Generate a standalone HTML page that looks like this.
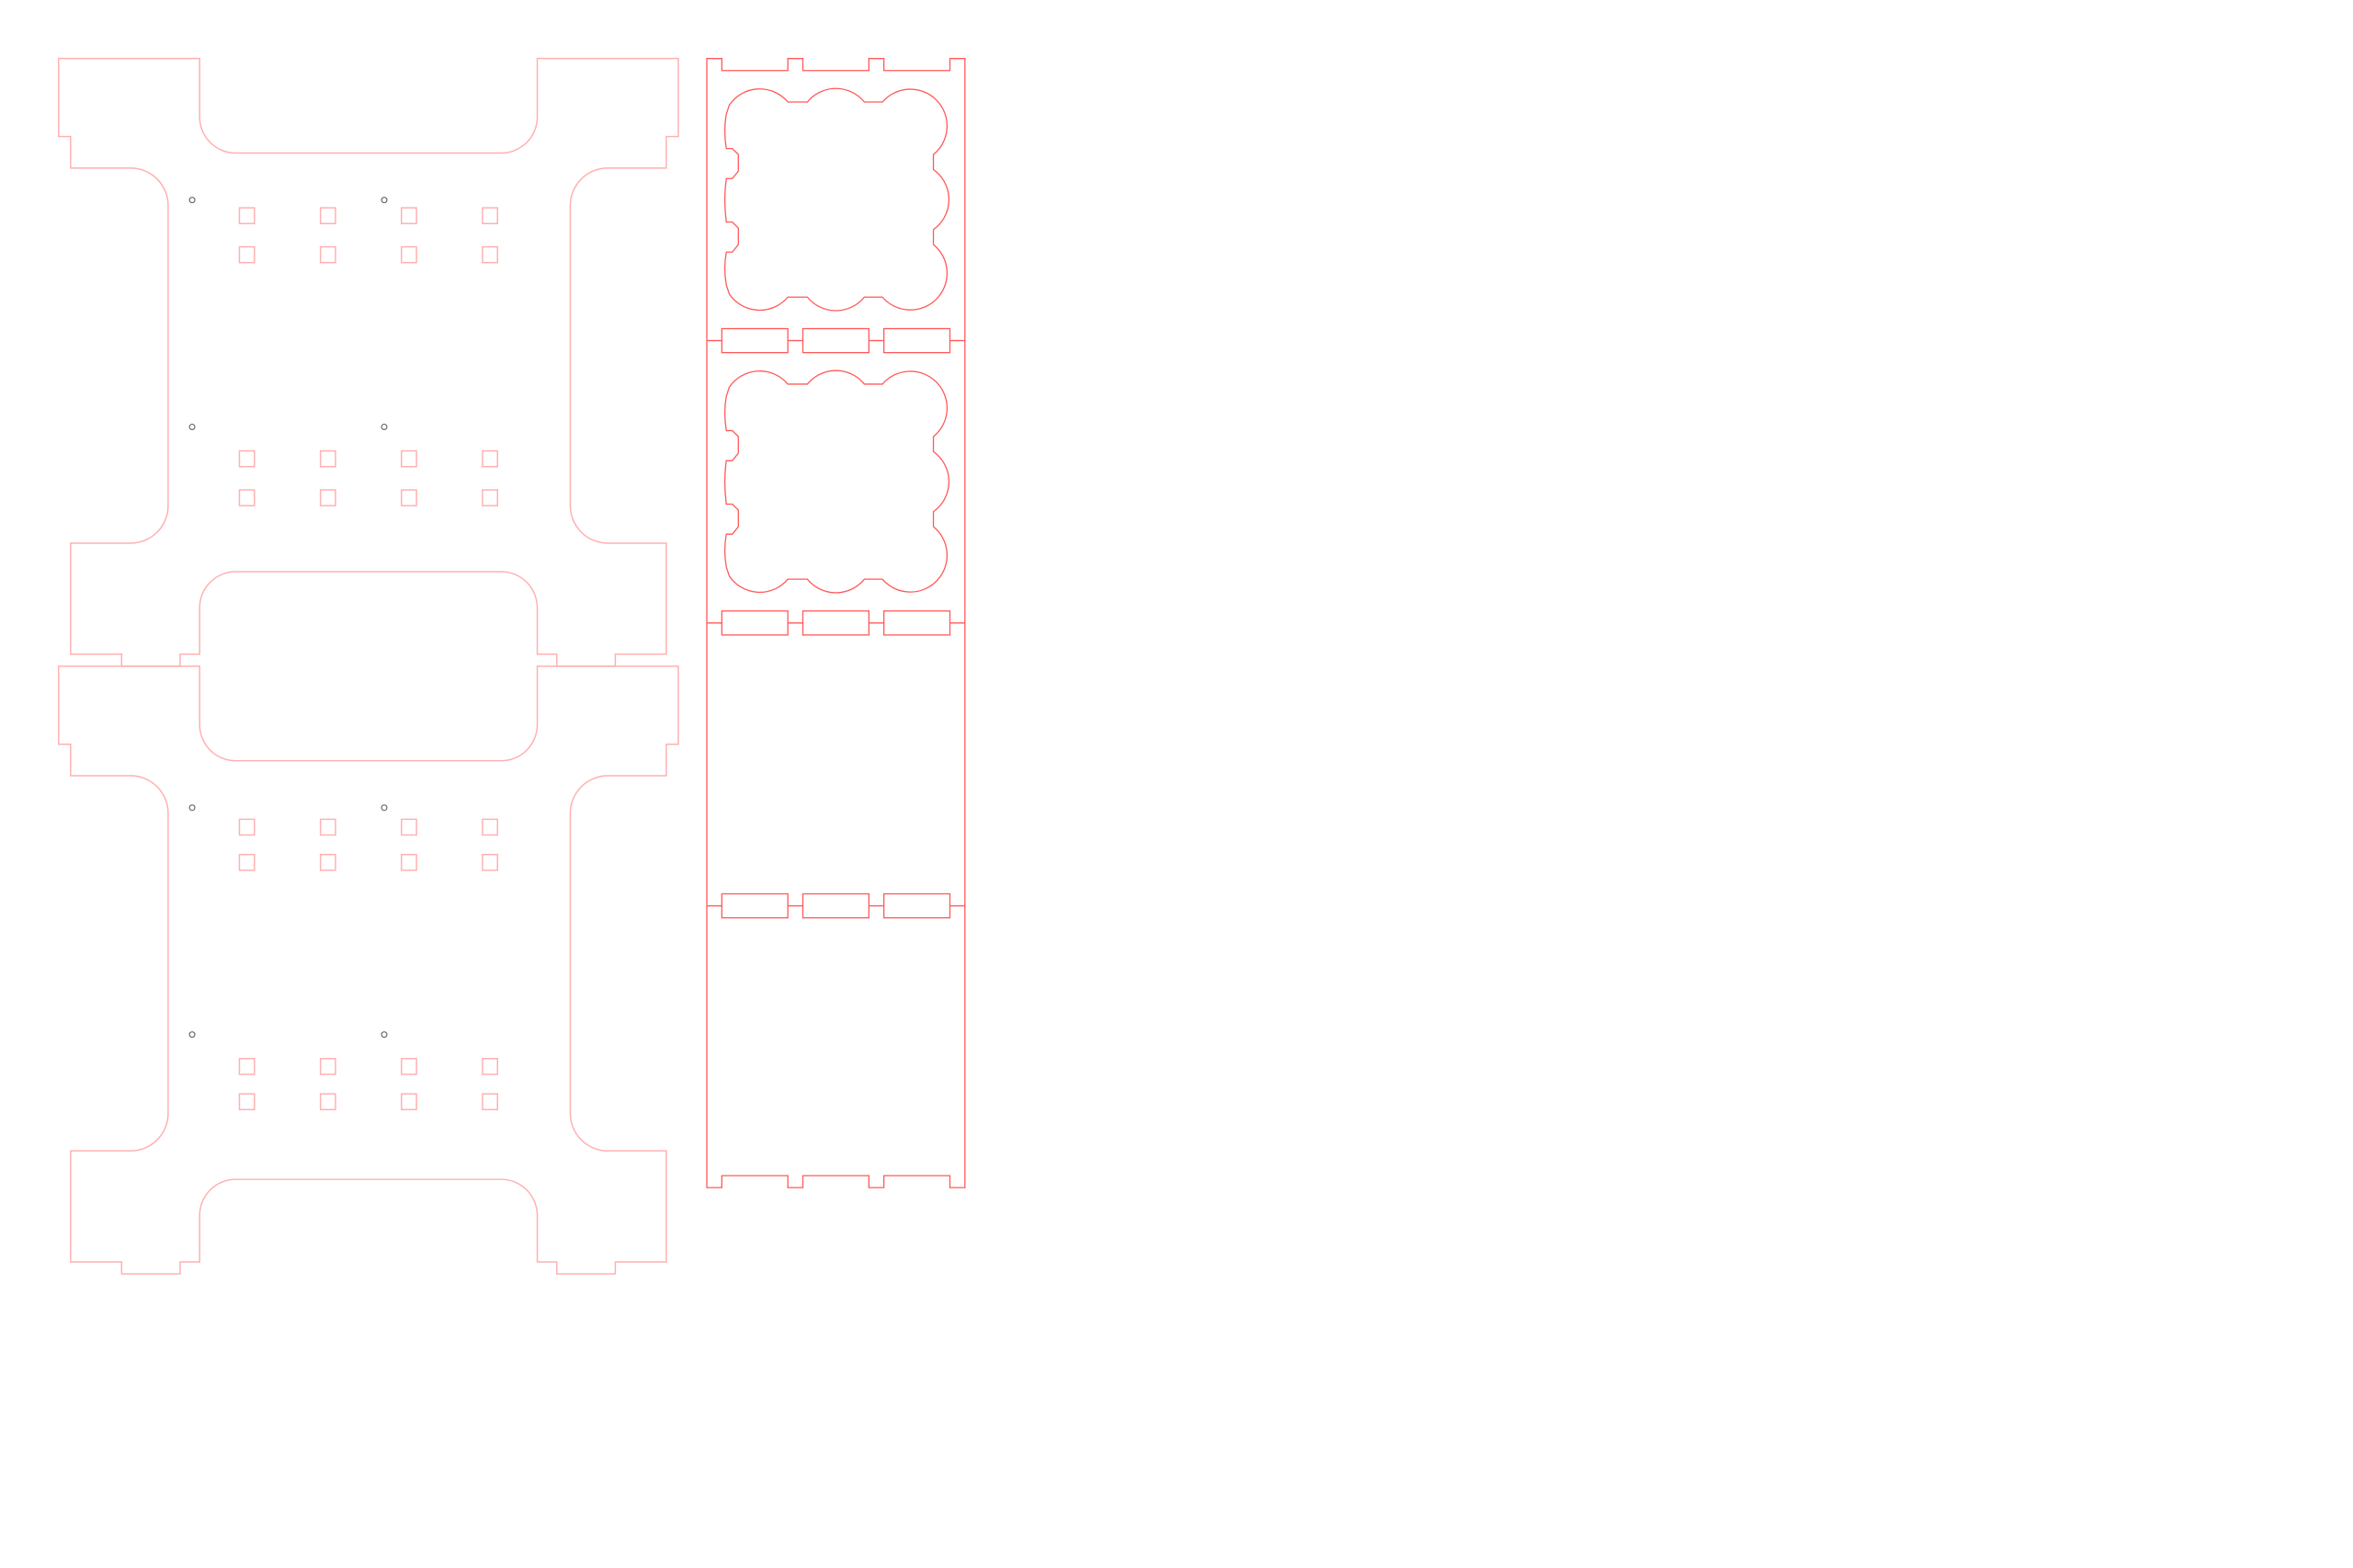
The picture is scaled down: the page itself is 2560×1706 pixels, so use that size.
<!DOCTYPE html>
<html><head><meta charset="utf-8"><style>
html,body{margin:0;padding:0;background:#fff;}
svg{display:block;}
</style></head><body>
<svg width="2560" height="1706" viewBox="0 0 1568 1045" xmlns="http://www.w3.org/2000/svg">
<defs>
<path id="plate" d="M39,39 H133 V78 A24,24 0 0 0 157,102 H334 A24,24 0 0 0 358,78 V39 H452 V91 H444 V112 H405 A25,25 0 0 0 380,137 V337 A25,25 0 0 0 405,362 H444 V436 H410 V444 H371 V436 H358 V405 A24,24 0 0 0 334,381 H157 A24,24 0 0 0 133,405 V436 H120 V444 H81 V436 H47 V362 H87 A25,25 0 0 0 112,337 V137 A25,25 0 0 0 87,112 H47 V91 H39 Z"/>
<path id="scal" d="M486,70 A24.5,24.5 0 0 1 525,68 H538 A24.5,24.5 0 0 1 576,68 H588 A24.5,24.5 0 1 1 622,103 V113 A24.5,24.5 0 0 1 622,153 V163 A24.5,24.5 0 1 1 588,198 H576 A24.5,24.5 0 0 1 538,198 H525 A24.5,24.5 0 0 1 486,196 L484,190 Q482,179 484,168 L488,168 L492,163 V152 L488,148 L484,148 Q482,133 484,119 L488,119 L492,114 V103 L488,99 L484,99 Q482,87 484,76 Z"/>
<g id="slots">
<rect x="481" y="-8" width="44" height="16"/>
<rect x="535" y="-8" width="44" height="16"/>
<rect x="589" y="-8" width="44" height="16"/>
<path d="M471,0 H481 M525,0 H535 M579,0 H589 M633,0 H643"/>
</g>
</defs>

<g fill="none" stroke="#ffb0b0" stroke-width="0.9">
<use href="#plate"/>
<use href="#plate" transform="translate(0,405)"/>
<!-- top plate squares -->
<g>
<rect x="159.5" y="138.5" width="10" height="10.5"/><rect x="213.5" y="138.5" width="10" height="10.5"/><rect x="267.5" y="138.5" width="10" height="10.5"/><rect x="321.5" y="138.5" width="10" height="10.5"/>
<rect x="159.5" y="164.5" width="10" height="10.5"/><rect x="213.5" y="164.5" width="10" height="10.5"/><rect x="267.5" y="164.5" width="10" height="10.5"/><rect x="321.5" y="164.5" width="10" height="10.5"/>
<rect x="159.5" y="300.5" width="10" height="10.5"/><rect x="213.5" y="300.5" width="10" height="10.5"/><rect x="267.5" y="300.5" width="10" height="10.5"/><rect x="321.5" y="300.5" width="10" height="10.5"/>
<rect x="159.5" y="326.5" width="10" height="10.5"/><rect x="213.5" y="326.5" width="10" height="10.5"/><rect x="267.5" y="326.5" width="10" height="10.5"/><rect x="321.5" y="326.5" width="10" height="10.5"/>
</g>
<!-- bottom plate squares -->
<g>
<rect x="159.5" y="546" width="10" height="10.5"/><rect x="213.5" y="546" width="10" height="10.5"/><rect x="267.5" y="546" width="10" height="10.5"/><rect x="321.5" y="546" width="10" height="10.5"/>
<rect x="159.5" y="569.5" width="10" height="10.5"/><rect x="213.5" y="569.5" width="10" height="10.5"/><rect x="267.5" y="569.5" width="10" height="10.5"/><rect x="321.5" y="569.5" width="10" height="10.5"/>
<rect x="159.5" y="705.5" width="10" height="10.5"/><rect x="213.5" y="705.5" width="10" height="10.5"/><rect x="267.5" y="705.5" width="10" height="10.5"/><rect x="321.5" y="705.5" width="10" height="10.5"/>
<rect x="159.5" y="729" width="10" height="10.5"/><rect x="213.5" y="729" width="10" height="10.5"/><rect x="267.5" y="729" width="10" height="10.5"/><rect x="321.5" y="729" width="10" height="10.5"/>
</g>
</g>

<g fill="none" stroke="#666" stroke-width="0.7">
<circle cx="128" cy="133.3" r="1.8"/><circle cx="256" cy="133.3" r="1.8"/>
<circle cx="128" cy="284.5" r="1.8"/><circle cx="256" cy="284.5" r="1.8"/>
<circle cx="128" cy="538.3" r="1.8"/><circle cx="256" cy="538.3" r="1.8"/>
<circle cx="128" cy="689.5" r="1.8"/><circle cx="256" cy="689.5" r="1.8"/>
</g>

<g fill="none" stroke="#ff5a5a" stroke-width="0.8">
<path d="M471,39 H481 V47 H525 V39 H535 V47 H579 V39 H589 V47 H633 V39 H643 V791.5 H633 V783.5 H589 V791.5 H579 V783.5 H535 V791.5 H525 V783.5 H481 V791.5 H471 Z"/>
<use href="#scal"/>
<use href="#scal" transform="translate(0,188)"/>
<use href="#slots" transform="translate(0,227)"/>
<use href="#slots" transform="translate(0,415.2)"/>
<use href="#slots" transform="translate(0,603.7)"/>
</g>
</svg>
</body></html>
